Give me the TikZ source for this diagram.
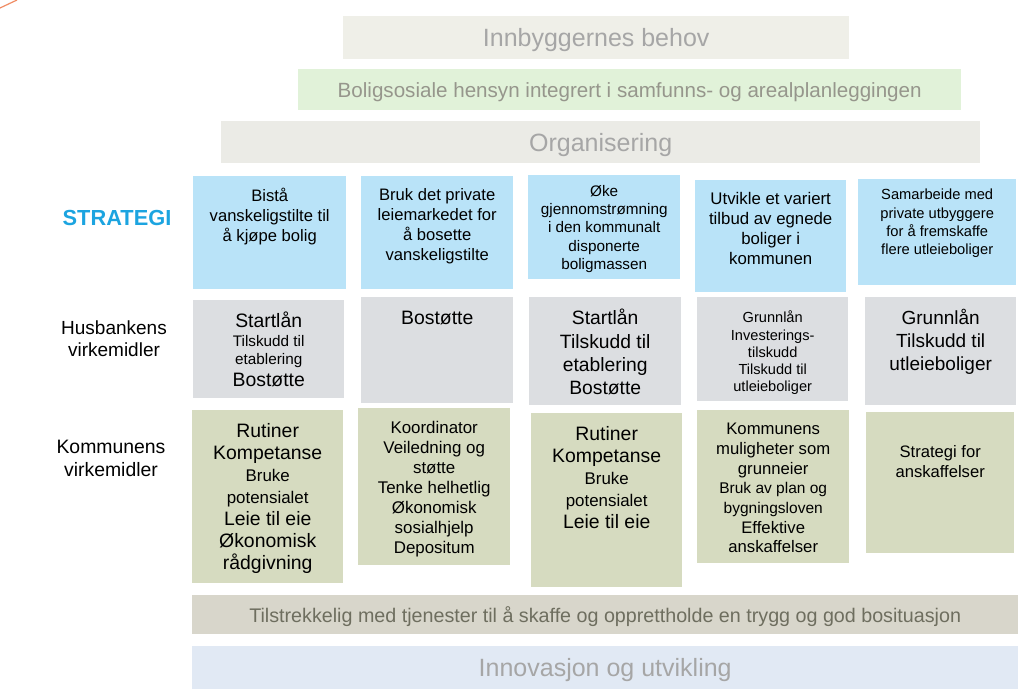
\documentclass[tikz,border=0pt]{standalone}
\usepackage{fontspec}
\setmainfont{Liberation Sans}
\usepackage{xcolor}
\usepackage{tikz}
\usetikzlibrary{positioning}
\definecolor{stratblue}{RGB}{185,227,248}
\definecolor{husgray}{RGB}{220,222,225}
\definecolor{komgreen}{RGB}{214,219,192}
\definecolor{needfill}{RGB}{239,239,232}
\definecolor{planfill}{RGB}{225,242,217}
\definecolor{orgfill}{RGB}{235,235,230}
\definecolor{servfill}{RGB}{216,214,203}
\definecolor{innofill}{RGB}{225,233,244}
\definecolor{bandgray}{RGB}{166,166,166}
\definecolor{plantext}{RGB}{150,150,140}
\definecolor{servtext}{RGB}{110,110,95}
\definecolor{stratlabel}{RGB}{28,164,224}
\definecolor{accent}{RGB}{240,140,100}
\newcommand{\lgtxt}[1]{{\fontsize{19.4}{23}\selectfont #1}}
\newcommand{\mdtxt}[1]{{\fontsize{16.9}{20}\selectfont #1}}
\newcommand{\smtxt}[1]{{\fontsize{15.5}{18}\selectfont #1}}
\tikzset{
  band/.style={anchor=north west, inner sep=0pt, text depth=0pt, font=\fontsize{25}{30}\selectfont, text=bandgray},
  colbox/.style={anchor=north west, inner sep=0pt},
  stratbox/.style={colbox, fill=stratblue},
  husbox/.style={colbox, fill=husgray},
  kombox/.style={colbox, fill=komgreen},
  boxtext/.style={inner sep=0pt, align=center},
  sidelabel/.style={anchor=north, inner sep=0pt, align=center},
}
\begin{document}
\begin{tikzpicture}[x=1pt, y=-1pt]
  \useasboundingbox (0,0) rectangle (1024,699);
  \draw[accent, line width=1.2pt] (0,8) -- (17,0);

  % bands at the top
  \node[band, fill=needfill, minimum width=506, minimum height=43] (need) at (343,16) {Innbyggernes behov};
  \node[band, fill=planfill, minimum width=663, minimum height=41, text=plantext,
        font=\fontsize{20.6}{24}\selectfont] (plan) at (298,69)
        {Boligsosiale hensyn integrert i samfunns- og arealplanleggingen};
  \node[band, fill=orgfill, minimum width=759, minimum height=42] (org) at (221,121) {Organisering};

  % row labels
  \node[inner sep=0pt, text=stratlabel, font=\fontsize{21.8}{26}\selectfont\bfseries] (lstrat) at (117,217.5) {STRATEGI};
  \node[sidelabel, font=\fontsize{19}{22}\selectfont] (lhus) at (114,321) {Husbankens\\virkemidler};
  \node[sidelabel, font=\fontsize{19.4}{23}\selectfont] (lkom) at (111,440) {Kommunens\\virkemidler};

  % strategi
  \node[stratbox, minimum width=153, minimum height=113] (s1) at (193,176) {};
  \node[stratbox, minimum width=152, minimum height=113] (s2) at (361,176) {};
  \node[stratbox, minimum width=152, minimum height=104] (s3) at (528,175) {};
  \node[stratbox, minimum width=151, minimum height=112] (s4) at (695,180) {};
  \node[stratbox, minimum width=158, minimum height=106] (s5) at (858,179) {};
  \node[boxtext, font=\fontsize{16.6}{20}\selectfont, below=12pt of s1.north] (s1t)
    {Bistå\\vanskeligstilte til\\å kjøpe bolig};
  \node[boxtext, font=\fontsize{16.6}{20}\selectfont, below=12pt of s2.north] (s2t)
    {Bruk det private\\leiemarkedet for\\å bosette\\vanskeligstilte};
  \node[boxtext, font=\fontsize{15.3}{18.3}\selectfont, below=10pt of s3.north] (s3t)
    {Øke\\gjennomstrømning\\i den kommunalt\\disponerte\\boligmassen};
  \node[boxtext, font=\fontsize{16.8}{20}\selectfont, below=12.5pt of s4.north] (s4t)
    {Utvikle et variert\\tilbud av egnede\\boliger i\\kommunen};
  \node[boxtext, font=\fontsize{14.7}{18.3}\selectfont, below=10pt of s5.north] (s5t)
    {Samarbeide med\\private utbyggere\\for å fremskaffe\\flere utleieboliger};

  % husbanken
  \node[husbox, minimum width=151, minimum height=98] (h1) at (193,300) {};
  \node[husbox, minimum width=152, minimum height=106] (h2) at (361,297) {};
  \node[husbox, minimum width=152, minimum height=108] (h3) at (529,297) {};
  \node[husbox, minimum width=151, minimum height=104] (h4) at (697,297) {};
  \node[husbox, minimum width=151, minimum height=108] (h5) at (865,297) {};
  \node[boxtext, font=\fontsize{15.3}{18.5}\selectfont, below=12pt of h1.north] (h1t)
    {\lgtxt{Startlån}\\Tilskudd til\\etablering\\[3pt]\lgtxt{Bostøtte}};
  \node[boxtext, font=\fontsize{19.4}{23}\selectfont, below=13.5pt of h2.north] (h2t) {Bostøtte};
  \node[boxtext, font=\fontsize{19.3}{23.3}\selectfont, below=12pt of h3.north] (h3t)
    {Startlån\\Tilskudd til\\etablering\\Bostøtte};
  \node[boxtext, font=\fontsize{14.6}{17.2}\selectfont, below=14pt of h4.north] (h4t)
    {Grunnlån\\Investerings-\\tilskudd\\Tilskudd til\\utleieboliger};
  \node[boxtext, font=\fontsize{19}{23.2}\selectfont, below=12pt of h5.north] (h5t)
    {Grunnlån\\Tilskudd til\\utleieboliger};

  % kommunen
  \node[kombox, minimum width=151, minimum height=173] (k1) at (192,410) {};
  \node[kombox, minimum width=152, minimum height=157] (k2) at (358,408) {};
  \node[kombox, minimum width=151, minimum height=174] (k3) at (531,413) {};
  \node[kombox, minimum width=152, minimum height=153] (k4) at (697,410) {};
  \node[kombox, minimum width=148, minimum height=141] (k5) at (866,412) {};
  \node[boxtext, font=\fontsize{19.4}{22}\selectfont, below=13pt of k1.north] (k1t)
    {Rutiner\\Kompetanse\\\mdtxt{Bruke}\\\mdtxt{potensialet}\\Leie til eie\\Økonomisk\\rådgivning};
  \node[boxtext, font=\fontsize{16.9}{20}\selectfont, below=13pt of k2.north] (k2t)
    {Koordinator\\Veiledning og\\støtte\\Tenke helhetlig\\Økonomisk\\sosialhjelp\\Depositum};
  \node[boxtext, font=\fontsize{19.4}{22}\selectfont, below=13pt of k3.north] (k3t)
    {Rutiner\\Kompetanse\\\mdtxt{Bruke}\\\mdtxt{potensialet}\\Leie til eie};
  \node[boxtext, font=\fontsize{16.7}{19.7}\selectfont, below=13pt of k4.north] (k4t)
    {Kommunens\\muligheter som\\grunneier\\\smtxt{Bruk av plan og}\\\smtxt{bygningsloven}\\Effektive\\anskaffelser};
  \node[boxtext, font=\fontsize{16.6}{20}\selectfont, below=33pt of k5.north] (k5t)
    {Strategi for\\anskaffelser};

  % bands at the bottom
  \node[band, fill=servfill, minimum width=826, minimum height=39, text=servtext,
        font=\fontsize{19.7}{24}\selectfont] (serv) at (192,595)
        {Tilstrekkelig med tjenester til å skaffe og opprettholde en trygg og god bosituasjon};
  \node[band, fill=innofill, minimum width=826, minimum height=43] (inno) at (192,646) {Innovasjon og utvikling};
\end{tikzpicture}
\end{document}
